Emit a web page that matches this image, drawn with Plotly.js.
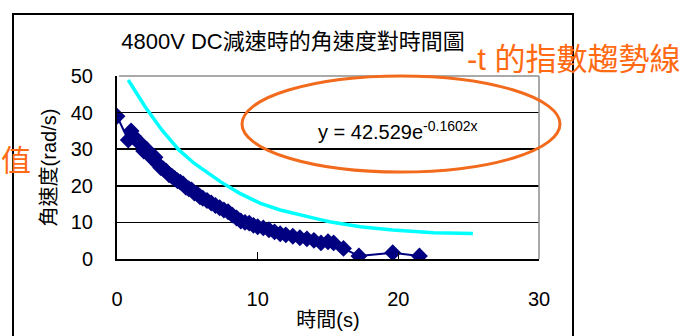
<!DOCTYPE html>
<html>
<head>
<meta charset="utf-8">
<script src="https://cdn.plot.ly/plotly-3.0.1.min.js"></script>
<style>html,body{margin:0;padding:0;background:#fff;}#chart{width:694px;height:336px;}</style>
</head>
<body>
<div id="chart"></div>
<script>
// measured data (time in s, angular speed in rad/s)
const timeS = [0, 0.8, 1.0, 1.2, 1.5, 1.7, 1.9, 2.1, 2.3, 2.5, 2.7, 2.9, 3.1, 3.3, 3.5, 3.7, 3.9, 4.1, 4.3, 4.5, 4.7, 4.9, 5.1, 5.3, 5.5, 5.7, 5.9, 6.1, 6.4, 6.7, 7.0, 7.3, 7.6, 7.9, 8.2, 8.5, 8.8, 9.1, 9.4, 9.7, 10.0, 10.4, 10.8, 11.2, 11.6, 12.0, 12.5, 13.0, 13.5, 14.0, 14.5, 15.0, 15.4, 16.1, 17.2, 19.6, 21.5];
const omega = [39.0, 32.5, 35.0, 33.5, 32.0, 31.5, 29.5, 30.0, 28.5, 27.5, 27.8, 26.0, 25.0, 24.6, 24.0, 23.0, 22.6, 22.0, 21.4, 21.0, 20.5, 19.6, 19.2, 18.9, 18.0, 17.8, 17.0, 16.6, 16.0, 15.3, 14.6, 14.0, 13.4, 12.9, 12.0, 11.2, 10.4, 10.0, 9.8, 9.2, 8.8, 8.5, 8.0, 7.4, 6.9, 6.6, 6.2, 5.8, 5.5, 5.1, 4.4, 4.7, 4.4, 2.9, 0.8, 1.7, 0.8];
// trend line as drawn
const trendT = [0.8, 2.0, 3.2, 4.4, 5.5, 6.5, 7.4, 8.7, 10.2, 11.6, 13.0, 14.3, 15.1, 17.3, 19.6, 22.5, 25.3];
const trendW = [48.9, 41.6, 35.2, 29.8, 26.1, 23.3, 21.0, 18.0, 15.2, 13.4, 12.0, 10.9, 10.2, 8.8, 7.9, 7.2, 7.0];
const xTicks = [0, 10, 20, 30];
const yTicks = [0, 10, 20, 30, 40, 50];
const chartTitle = '4800V DC減速時的角速度對時間圖';
const eqText = 'y = 42.529e<sup>-0.1602x</sup>';
const noteTrend = '-t 的指數趨勢線';
const noteValue = '值';

const FONT = '"Liberation Sans", Arial, "Noto Sans CJK TC", sans-serif';
const L = 117, R = 539, T = 76, B = 259;
const px = v => (v - L) / (R - L);
const py = v => (B - v) / (B - T);

const traces = [
  {x: trendT, y: trendW, type: 'scatter', mode: 'lines',
   line: {color: '#00FFFF', width: 3.5}, hoverinfo: 'skip'},
  {x: timeS, y: omega, type: 'scatter', mode: 'lines+markers',
   line: {color: '#000080', width: 2},
   marker: {symbol: 'diamond', size: 13, color: '#000080'}}
];

const layout = {
  width: 694, height: 336,
  margin: {l: L, r: 694 - R, t: T, b: 336 - B},
  paper_bgcolor: '#fff', plot_bgcolor: '#fff',
  showlegend: false,
  font: {family: FONT, color: '#000', size: 20},
  title: {text: chartTitle, font: {size: 22, color: '#000'},
          xref: 'paper', x: px(293), xanchor: 'center',
          yref: 'container', y: 1 - 41 / 336, yanchor: 'middle'},
  xaxis: {range: [0, 30], tickvals: xTicks, ticktext: xTicks.map(String),
          showgrid: false, zeroline: false,
          showline: true, linecolor: '#000', linewidth: 2,
          ticks: 'inside', ticklen: 7, tickwidth: 1.5, tickcolor: '#000',
          ticklabelstandoff: 21,
          tickfont: {size: 20},
          title: {text: '時間(s)', font: {size: 20}, standoff: 4}},
  yaxis: {range: [0, 50], tickvals: yTicks, ticktext: yTicks.map(String),
          showgrid: true, gridcolor: '#000', gridwidth: 1.5, zeroline: false,
          showline: true, linecolor: '#000', linewidth: 2,
          ticks: 'inside', ticklen: 6, tickwidth: 1.5, tickcolor: '#000',
          ticklabelstandoff: 18,
          tickfont: {size: 20},
          title: {text: '角速度(rad/s)', font: {size: 20}, standoff: 9}},
  shapes: [
    // gray top & right plot border
    {type: 'line', xref: 'paper', yref: 'paper', x0: 0.005, x1: 1, y0: 1, y1: 1, line: {color: '#8c8c8c', width: 1.5}, layer: 'above'},
    {type: 'line', xref: 'paper', yref: 'paper', x0: 1, x1: 1, y0: 0, y1: 1, line: {color: '#8c8c8c', width: 1.5}, layer: 'above'},
    // outer chart frame
    {type: 'rect', xref: 'paper', yref: 'paper', x0: px(13), x1: px(573), y0: py(345), y1: py(14), line: {color: '#000', width: 2}, layer: 'below'},
    // orange ellipse
    {type: 'circle', xref: 'paper', yref: 'paper', x0: px(242), x1: px(560), y0: py(172), y1: py(76), line: {color: '#F26B1D', width: 3}, layer: 'above'}
  ],
  annotations: [
    {text: eqText, xref: 'paper', yref: 'paper', x: px(398), y: py(130), xanchor: 'center', yanchor: 'middle', showarrow: false, font: {size: 20, color: '#000'}},
    {text: noteTrend, xref: 'paper', yref: 'paper', x: px(574), y: py(60), xanchor: 'center', yanchor: 'middle', showarrow: false, font: {size: 31, color: '#FF6A13'}},
    {text: noteValue, xref: 'paper', yref: 'paper', x: px(16), y: py(160), xanchor: 'center', yanchor: 'middle', showarrow: false, font: {size: 30, color: '#FF6A13'}}
  ]
};

Plotly.newPlot('chart', traces, layout, {displayModeBar: false, staticPlot: true});
</script>
</body>
</html>
